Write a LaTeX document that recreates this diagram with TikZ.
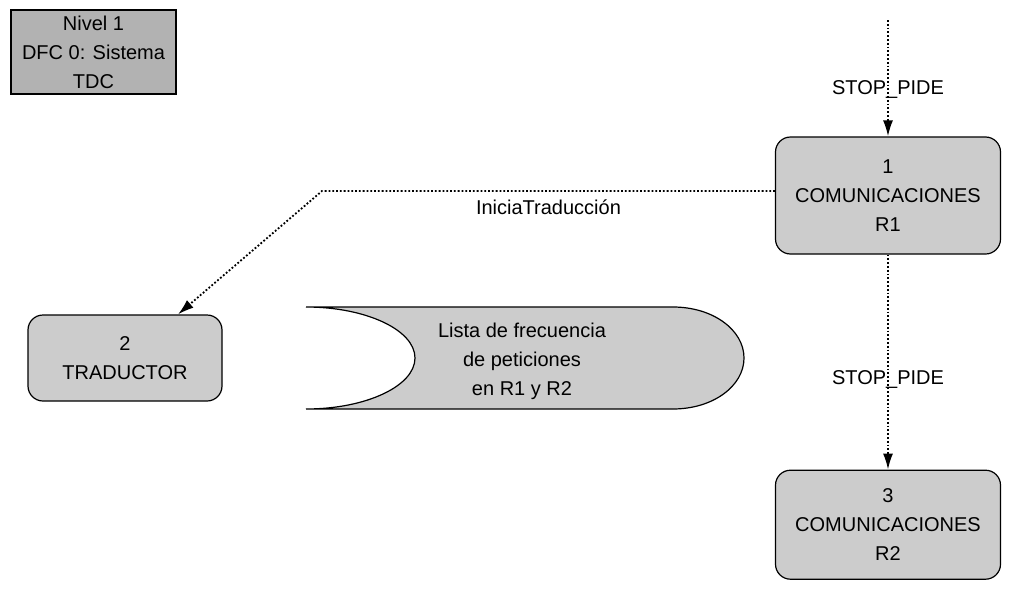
\documentclass[tikz,border=0pt]{standalone}
\usepackage{fontspec}
\setmainfont{Liberation Sans}
\usetikzlibrary{positioning,arrows.meta}

\tikzset{
  proc/.style={draw=black, line width=1.2pt, fill=black!20, rounded corners=15pt,
    align=center, minimum width=225pt},
  level/.style={draw=black, line width=1.2pt, fill=black!30, align=center,
    minimum width=165pt, minimum height=84pt},
  flow/.style={dotted, line width=1.8pt, -{Latex[length=16pt,width=10pt]}},
  store/.style={draw=black, line width=1.2pt, fill=black!20},
}

\begin{document}
\begin{tikzpicture}[x=1pt, y=-1pt, font=\fontsize{20}{29}\selectfont]
  \useasboundingbox (0,0) rectangle (1020,589);

  % level
  \node[level] (nivel) at (93.5,52) {Nivel 1\\DFC 0: Sistema\\TDC}; %

  % processes
  \node[proc, minimum height=117pt] (com1) at (888,195.5) {1\\COMUNICACIONES\\R1}; %
  \node[proc, minimum height=109pt, below=215pt of com1] (com2) {3\\COMUNICACIONES\\R2}; %
  \node[proc, minimum width=194pt, minimum height=86pt] (trad) at (125,358) {2\\TRADUCTOR}; %

  % data store
  \draw[store] (306,307) -- (673,307)
    .. controls (713,307) and (744,330) .. (744,358)
    .. controls (744,386) and (713,409) .. (673,409)
    -- (306,409)
    .. controls (366,409) and (415,386) .. (415,358)
    .. controls (415,330) and (366,307) .. (306,307) -- cycle;
  \node[align=center] (lista) at (522,361) {Lista de frecuencia\\de peticiones\\en R1 y R2}; %

  % flows
  \coordinate (entrada) at (888,20);
  \coordinate (codo) at (322,191);
  \draw[flow] (entrada) -- node[pos=0.6] {STOP\_PIDE} (com1); %
  \draw[flow] (com1) -- node[pos=0.58] {STOP\_PIDE} (com2); %
  \draw[flow] (com1.west |- codo) -- node[below=5pt] {IniciaTraducción} (codo)
    -- ([xshift=53pt]trad.north); %

\end{tikzpicture}
\end{document}
